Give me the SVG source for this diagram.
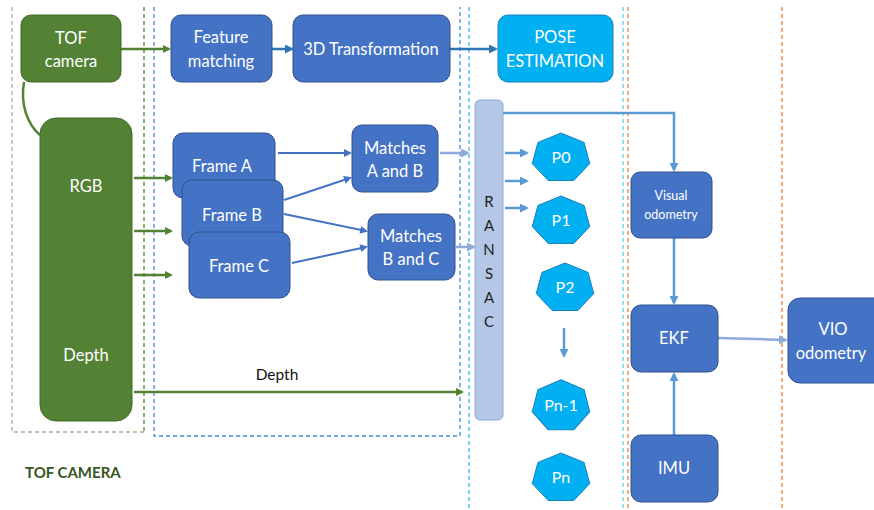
<svg xmlns="http://www.w3.org/2000/svg" width="874" height="510" viewBox="0 0 874 510">
<style>
.g{fill:#548235;stroke:#3f6a28;stroke-width:1}
.b{fill:#4472C4;stroke:#2F528F;stroke-width:1}
.p{fill:#00B0F0;stroke:#1a7fc0;stroke-width:1}
.t{font-family:Lato,"Open Sans","Liberation Sans",sans-serif;fill:#fff;text-anchor:middle}
.f16{font-size:16.5px}
.f15{font-size:16px}
.f12{font-size:12.5px}
.ga{stroke:#548235;stroke-width:2.5;fill:none}
.ba{stroke:#4472C4;stroke-width:2;fill:none}
.la{stroke:#5B9BD5;stroke-width:2.5;fill:none}
.pa{stroke:#8FAADC;stroke-width:2.5;fill:none}
.dash{fill:none;stroke-width:1.3;stroke-dasharray:4 3}
</style>
<defs>
<marker id="mg" markerWidth="8" markerHeight="8" refX="6" refY="4" orient="auto" markerUnits="userSpaceOnUse"><path d="M0,0 L8,4 L0,8 z" fill="#548235"/></marker>
<marker id="mb" markerWidth="8" markerHeight="8" refX="6" refY="4" orient="auto" markerUnits="userSpaceOnUse"><path d="M0,0 L8,4 L0,8 z" fill="#4472C4"/></marker>
<marker id="ml" markerWidth="9" markerHeight="9" refX="7" refY="4.5" orient="auto" markerUnits="userSpaceOnUse"><path d="M0,0 L9,4.5 L0,9 z" fill="#5B9BD5"/></marker>
<marker id="mp" markerWidth="9" markerHeight="9" refX="7" refY="4.5" orient="auto" markerUnits="userSpaceOnUse"><path d="M0,0 L9,4.5 L0,9 z" fill="#8FAADC"/></marker>
<marker id="md" markerWidth="9" markerHeight="9" refX="7" refY="4.5" orient="auto" markerUnits="userSpaceOnUse"><path d="M0,0 L9,4.5 L0,9 z" fill="#2E75B6"/></marker>
<polygon id="hep" points="0,-25 23.06,-15.59 28.76,5.56 12.8,22.53 -12.8,22.53 -28.76,5.56 -23.06,-15.59"/>
</defs>

<g id="regions">
<path class="dash" stroke="#9fb58f" d="M12,7 V432 H144"/>
<path class="dash" stroke="#548235" d="M144,7 V432"/>
<path class="dash" stroke="#3A8EE0" d="M154,7 V436 H460 V7"/>
<path class="dash" stroke="#33bbee" d="M469,7 V510"/>
<path class="dash" stroke="#5fd0e8" d="M623,7 V510"/>
<path class="dash" stroke="#ED7D31" d="M628,7 V510"/>
<path class="dash" stroke="#ED7D31" d="M782,7 V510"/>
</g>

<g id="connectors">
<path class="ga" d="M24,82 C20,105 28,125 40,135"/>
<line class="ga" x1="121" y1="49" x2="169" y2="49" marker-end="url(#mg)"/>
<line class="la" x1="272" y1="49" x2="292" y2="49" style="stroke:#2E75B6" marker-end="url(#md)"/>
<line class="la" x1="450" y1="49" x2="496" y2="49" style="stroke:#2E75B6" marker-end="url(#md)"/>
<line class="ga" x1="134" y1="178" x2="171" y2="178" marker-end="url(#mg)"/>
<line class="ga" x1="134" y1="231" x2="171" y2="231" marker-end="url(#mg)"/>
<line class="ga" x1="134" y1="275" x2="171" y2="275" marker-end="url(#mg)"/>
<line class="ga" x1="134" y1="392" x2="462" y2="392" marker-end="url(#mg)"/>
<line class="ba" x1="278" y1="153" x2="350" y2="153" marker-end="url(#mb)"/>
<line class="ba" x1="284" y1="200" x2="350" y2="178" marker-end="url(#mb)"/>
<line class="ba" x1="284" y1="214" x2="366" y2="231" marker-end="url(#mb)"/>
<line class="ba" x1="292" y1="263" x2="366" y2="247" marker-end="url(#mb)"/>
<line class="pa" x1="440" y1="153" x2="468" y2="153" marker-end="url(#mp)"/>
<line class="pa" x1="456" y1="247" x2="474" y2="247" marker-end="url(#mp)"/>
<line class="la" x1="505" y1="153" x2="527" y2="153" marker-end="url(#ml)"/>
<line class="la" x1="505" y1="181" x2="527" y2="181" marker-end="url(#ml)"/>
<line class="la" x1="505" y1="208" x2="527" y2="208" marker-end="url(#ml)"/>
<line class="la" x1="564" y1="328" x2="564" y2="356" marker-end="url(#ml)"/>
<path class="la" d="M503,113 H674 V170" marker-end="url(#ml)"/>
<line class="la" x1="674" y1="238" x2="674" y2="303" marker-end="url(#ml)"/>
<line class="la" x1="674" y1="435" x2="674" y2="374" marker-end="url(#ml)"/>
<line class="pa" x1="718" y1="338" x2="786" y2="340" marker-end="url(#mp)"/>
</g>

<g id="tof-camera"><rect class="g" x="21" y="15" width="100" height="67" rx="10"/><text class="t f16" x="71" y="44">TOF</text><text class="t f16" x="71" y="67">camera</text></g>
<g id="rgb-depth"><rect class="g" x="40" y="118" width="92" height="303" rx="16"/><text class="t f16" x="86" y="192">RGB</text><text class="t f16" x="86" y="361">Depth</text></g>
<g id="feature-matching"><rect class="b" x="171" y="15" width="101" height="67" rx="10"/><text class="t f16" x="221" y="43">Feature</text><text class="t f16" x="221" y="67">matching</text></g>
<g id="transformation"><rect class="b" x="293" y="15" width="157" height="67" rx="10"/><text class="t f16" x="371" y="55">3D Transformation</text></g>
<g id="pose-estimation"><rect class="p" x="498" y="15" width="115" height="67" rx="10"/><text class="t f16" x="555" y="43">POSE</text><text class="t f16" x="555" y="67">ESTIMATION</text></g>

<g id="frame-a"><rect class="b" x="173" y="133" width="102" height="65" rx="10"/><text class="t f16" x="222" y="172">Frame A</text></g>
<g id="frame-b"><rect class="b" x="182" y="180" width="101" height="66" rx="10"/><text class="t f16" x="232" y="221">Frame B</text></g>
<g id="frame-c"><rect class="b" x="189" y="232" width="101" height="66" rx="10"/><text class="t f16" x="239" y="272">Frame C</text></g>
<g id="matches-ab"><rect class="b" x="352" y="125" width="86" height="67" rx="10"/><text class="t f16" x="395" y="154">Matches</text><text class="t f16" x="395" y="177">A and B</text></g>
<g id="matches-bc"><rect class="b" x="368" y="214" width="87" height="66" rx="10"/><text class="t f16" x="411" y="242">Matches</text><text class="t f16" x="411" y="265">B and C</text></g>

<g id="ransac"><rect x="475" y="100" width="28" height="320" rx="5" fill="#B4C7E7" stroke="#8FAADC"/>
<g class="t" style="fill:#222;font-size:15px"><text x="489" y="207">R</text><text x="489" y="231">A</text><text x="489" y="255">N</text><text x="489" y="279">S</text><text x="489" y="303">A</text><text x="489" y="327">C</text></g></g>

<g id="p0"><use href="#hep" class="p" transform="translate(561,158)"/><text class="t f15" x="561" y="163">P0</text></g>
<g id="p1"><use href="#hep" class="p" transform="translate(561,221)"/><text class="t f15" x="561" y="226">P1</text></g>
<g id="p2"><use href="#hep" class="p" transform="translate(565,288)"/><text class="t f15" x="565" y="293">P2</text></g>
<g id="pn-1"><use href="#hep" class="p" transform="translate(561,406) scale(1,1.05)"/><text class="t f15" x="561" y="411">Pn-1</text></g>
<g id="pn"><use href="#hep" class="p" transform="translate(561,478)"/><text class="t f15" x="561" y="483">Pn</text></g>

<g id="visual-odometry"><rect class="b" x="631" y="172" width="81" height="66" rx="9"/><text class="t f12" x="671" y="200">Visual</text><text class="t f12" x="671" y="219">odometry</text></g>
<g id="ekf"><rect class="b" x="631" y="305" width="87" height="67" rx="10"/><text class="t f16" x="674" y="344">EKF</text></g>
<g id="imu"><rect class="b" x="631" y="435" width="87" height="67" rx="10"/><text class="t f16" x="674" y="474">IMU</text></g>
<g id="vio-odometry"><rect class="b" x="788" y="298" width="100" height="85" rx="12"/><text class="t f16" x="833" y="335">VIO</text><text class="t f16" x="831" y="359">odometry</text></g>

<g id="labels">
<text x="277" y="380" style="font-family:Lato,'Open Sans','Liberation Sans',sans-serif;font-size:15.5px;fill:#111;text-anchor:middle">Depth</text>
<text x="25" y="478" style="font-family:Lato,'Open Sans','Liberation Sans',sans-serif;font-size:15px;font-weight:bold;fill:#375623">TOF CAMERA</text>
</g>
</svg>
